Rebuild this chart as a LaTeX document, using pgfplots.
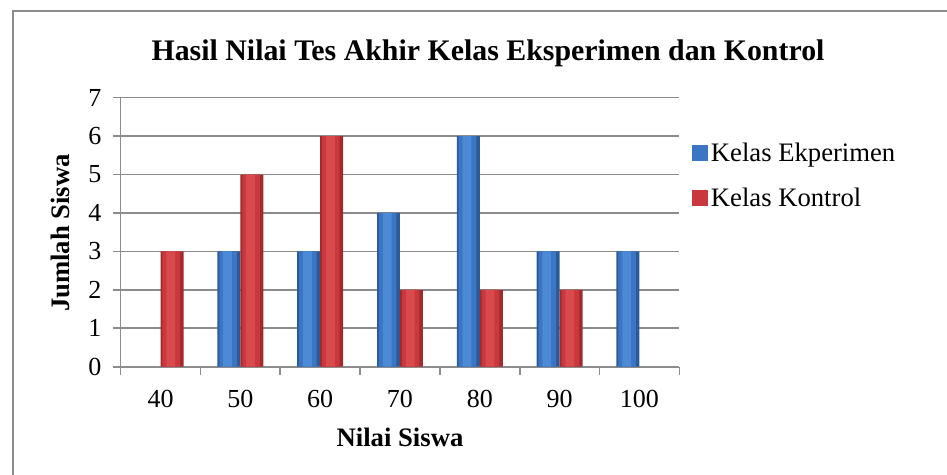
\documentclass[border=0pt]{standalone}
\usepackage{fontspec}
\setmainfont{Liberation Serif}
\usepackage{pgfplots}
\pgfplotsset{compat=1.18}
\definecolor{gridgray}{HTML}{8C8C8C}
\definecolor{blueedge}{HTML}{2C5A98}
\definecolor{bluemain}{HTML}{3A76C4}
\definecolor{bluehi}{HTML}{4D8AD6}
\definecolor{rededge}{HTML}{A02A2E}
\definecolor{redmain}{HTML}{C9383C}
\definecolor{redhi}{HTML}{D84A4E}
\begin{document}
\begin{tikzpicture}
\path[use as bounding box] (0,0) rectangle (710.25pt,356.25pt);
\draw[gridgray, line width=1.5pt] (9.75pt,0) -- (9.75pt,348pt) -- (711pt,348pt);
\begin{axis}[
  at={(90.5pt,81.2pt)}, anchor=south west,
  scale only axis, width=419pt, height=201.8pt,
  xmin=-0.5, xmax=6.5, ymin=0, ymax=7,
  axis lines*=left,
  ybar,
  ytick={0,...,7},
  ymajorgrids,
  grid style={gridgray, line width=1.2pt},
  xtick={0,...,6},
  xticklabels={40,50,60,70,80,90,100},
  major x tick style={draw=none},
  minor xtick={-0.5,0.5,...,6.5},
  tick align=outside,
  major tick length=6pt, minor tick length=6pt,
  tick style={gridgray, line width=1.2pt},
  axis line style={gridgray, line width=1.2pt},
  tick label style={font=\fontsize{19.5pt}{23pt}\selectfont, text=black},
  yticklabel style={xshift=-5pt},
  xticklabel style={yshift=-8pt},
  /pgf/number format/assume math mode=true,
  legend style={draw=none, fill=none, at={(1.0227,0.71)}, anchor=west,
    inner sep=0pt, row sep=14pt, font=\fontsize{20pt}{24pt}\selectfont},
  legend cell align=left,
]
% Kelas Eksperimen
\addplot[draw=none, fill=blueedge, bar width=0.288, bar shift=-0.144,
  legend image code/.code={\fill[bluemain] (0pt,-6pt) rectangle (12pt,6pt);}]
  coordinates {(1,3) (2,3) (3,4) (4,6) (5,3) (6,3)};
\addlegendentry{Kelas Ekperimen}
% Kelas Kontrol
\addplot[draw=none, fill=rededge, bar width=0.288, bar shift=0.144,
  legend image code/.code={\fill[redmain] (0pt,-6pt) rectangle (12pt,6pt);}]
  coordinates {(0,3) (1,5) (2,6) (3,2) (4,2) (5,2)};
\addlegendentry{Kelas Kontrol}
% cylinder-like highlights
\addplot[forget plot, draw=none, fill=bluemain, bar width=0.22, bar shift=-0.154]
  coordinates {(1,3) (2,3) (3,4) (4,6) (5,3) (6,3)};
\addplot[forget plot, draw=none, fill=bluehi, bar width=0.11, bar shift=-0.16]
  coordinates {(1,3) (2,3) (3,4) (4,6) (5,3) (6,3)};
\addplot[forget plot, draw=none, fill=redmain, bar width=0.22, bar shift=0.134]
  coordinates {(0,3) (1,5) (2,6) (3,2) (4,2) (5,2)};
\addplot[forget plot, draw=none, fill=redhi, bar width=0.11, bar shift=0.128]
  coordinates {(0,3) (1,5) (2,6) (3,2) (4,2) (5,2)};
\end{axis}
\node[anchor=base, font=\fontsize{22.4pt}{26pt}\selectfont\bfseries] at (366pt,311pt) {Hasil Nilai Tes Akhir Kelas Eksperimen dan Kontrol};
\node[anchor=base, font=\fontsize{20pt}{24pt}\selectfont\bfseries] at (300pt,21pt) {Nilai Siswa};
\node[anchor=base, rotate=90, font=\fontsize{20pt}{24pt}\selectfont\bfseries] at (52.3pt,181.5pt) {Jumlah Siswa};
\end{tikzpicture}
\end{document}
